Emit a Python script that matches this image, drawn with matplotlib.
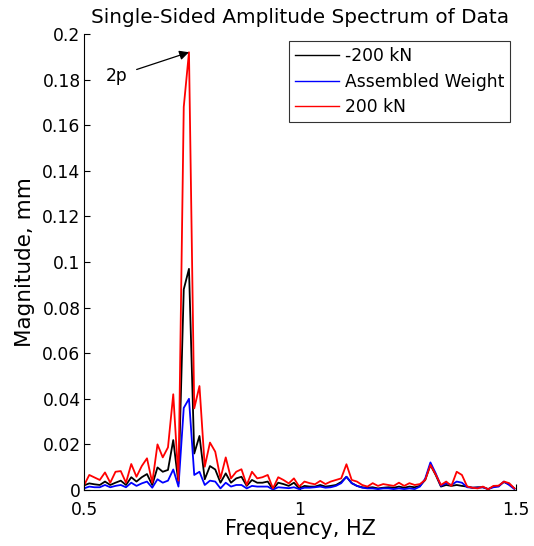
import matplotlib
matplotlib.use("Agg")
import matplotlib.pyplot as plt

plt.rcParams['font.family'] = ['DejaVu Sans']

freq = [0.5, 0.5122, 0.5243, 0.5365, 0.5486, 0.5608, 0.5729, 0.5851, 0.5972, 0.6094,
        0.6215, 0.6337, 0.6458, 0.6580, 0.6701, 0.6823, 0.6944, 0.7066, 0.7187, 0.7309,
        0.7430, 0.7552, 0.7673, 0.7795, 0.7916, 0.8038, 0.8159, 0.8281, 0.8402, 0.8524,
        0.8645, 0.8767, 0.8888, 0.9010, 0.9131, 0.9253, 0.9374, 0.9496, 0.9617, 0.9739,
        0.9860, 0.9982, 1.0103, 1.0225, 1.0346, 1.0468, 1.0589, 1.0711, 1.0832, 1.0954,
        1.1075, 1.1197, 1.1318, 1.1440, 1.1561, 1.1683, 1.1804, 1.1926, 1.2047, 1.2169,
        1.2290, 1.2412, 1.2533, 1.2655, 1.2776, 1.2898, 1.3019, 1.3141, 1.3262, 1.3384,
        1.3505, 1.3627, 1.3748, 1.3870, 1.3991, 1.4113, 1.4234, 1.4356, 1.4477, 1.4599,
        1.4720, 1.4842, 1.4963]

minus200 = [0.0020, 0.0029, 0.0025, 0.0022, 0.0037, 0.0022, 0.0032, 0.0041, 0.0022, 0.0056,
            0.0037, 0.0056, 0.0070, 0.0022, 0.0099, 0.0080, 0.0088, 0.0219, 0.0029, 0.0880,
            0.0970, 0.0160, 0.0237, 0.0047, 0.0105, 0.0090, 0.0032, 0.0073, 0.0032, 0.0051,
            0.0058, 0.0018, 0.0044, 0.0032, 0.0032, 0.0037, 0.0003, 0.0032, 0.0026, 0.0018,
            0.0032, 0.0007, 0.0018, 0.0015, 0.0015, 0.0022, 0.0015, 0.0018, 0.0022, 0.0035,
            0.0058, 0.0030, 0.0018, 0.0012, 0.0010, 0.0012, 0.0007, 0.0010, 0.0012, 0.0010,
            0.0015, 0.0010, 0.0015, 0.0012, 0.0018, 0.0044, 0.0110, 0.0066, 0.0015, 0.0022,
            0.0018, 0.0022, 0.0018, 0.0015, 0.0010, 0.0012, 0.0012, 0.0004, 0.0015, 0.0018,
            0.0035, 0.0025, 0.0007]

assembled = [0.0007, 0.0015, 0.0012, 0.0012, 0.0022, 0.0012, 0.0018, 0.0022, 0.0012, 0.0032,
             0.0018, 0.0029, 0.0037, 0.0010, 0.0047, 0.0032, 0.0041, 0.0090, 0.0015, 0.0360,
             0.0400, 0.0066, 0.0080, 0.0022, 0.0041, 0.0037, 0.0007, 0.0032, 0.0015, 0.0022,
             0.0022, 0.0007, 0.0018, 0.0015, 0.0015, 0.0015, 0.0002, 0.0012, 0.0010, 0.0008,
             0.0012, 0.0004, 0.0010, 0.0010, 0.0012, 0.0015, 0.0010, 0.0012, 0.0018, 0.0030,
             0.0058, 0.0030, 0.0018, 0.0010, 0.0007, 0.0007, 0.0004, 0.0007, 0.0007, 0.0004,
             0.0007, 0.0004, 0.0007, 0.0004, 0.0015, 0.0050, 0.0121, 0.0073, 0.0018, 0.0030,
             0.0022, 0.0037, 0.0032, 0.0012, 0.0010, 0.0010, 0.0012, 0.0004, 0.0012, 0.0015,
             0.0037, 0.0022, 0.0004]

plus200 = [0.0020, 0.0066, 0.0055, 0.0044, 0.0077, 0.0032, 0.0080, 0.0083, 0.0032, 0.0114,
           0.0058, 0.0105, 0.0139, 0.0032, 0.0200, 0.0143, 0.0187, 0.0420, 0.0041, 0.1680,
           0.1920, 0.0358, 0.0456, 0.0102, 0.0208, 0.0168, 0.0051, 0.0143, 0.0051, 0.0080,
           0.0091, 0.0022, 0.0080, 0.0051, 0.0056, 0.0066, 0.0007, 0.0056, 0.0044, 0.0029,
           0.0051, 0.0015, 0.0037, 0.0030, 0.0025, 0.0040, 0.0026, 0.0037, 0.0044, 0.0051,
           0.0113, 0.0044, 0.0037, 0.0022, 0.0015, 0.0030, 0.0018, 0.0026, 0.0022, 0.0018,
           0.0032, 0.0018, 0.0030, 0.0022, 0.0026, 0.0044, 0.0110, 0.0068, 0.0022, 0.0037,
           0.0018, 0.0080, 0.0066, 0.0015, 0.0010, 0.0007, 0.0015, 0.0003, 0.0018, 0.0019,
           0.0037, 0.0030, 0.0007]

series_labels = ['-200 kN', 'Assembled Weight', '200 kN']
xticks = [0.5, 1, 1.5]
xticklabels = ['0.5', '1', '1.5']
yticks = [0, 0.02, 0.04, 0.06, 0.08, 0.1, 0.12, 0.14, 0.16, 0.18, 0.2]
yticklabels = ['0', '0.02', '0.04', '0.06', '0.08', '0.1', '0.12', '0.14', '0.16', '0.18', '0.2']

FS = 12.3
fig = plt.figure(figsize=(5.34, 5.46), dpi=100)
ax = fig.add_axes([84/534, 56/546, 432/534, 456/546])

ax.plot(freq, minus200, color='black', lw=1.3, label=series_labels[0])
ax.plot(freq, assembled, color='blue', lw=1.3, label=series_labels[1])
ax.plot(freq, plus200, color='red', lw=1.3, label=series_labels[2])

ax.set_xlim(0.5, 1.5)
ax.set_ylim(0, 0.2)
ax.set_xticks(xticks)
ax.set_xticklabels(xticklabels)
ax.set_yticks(yticks)
ax.set_yticklabels(yticklabels)
ax.tick_params(direction='in', length=4, width=0.8, labelsize=FS)
ax.tick_params(axis='y', pad=2.5)
ax.tick_params(axis='x', pad=8)
for s in ['top', 'right']:
    ax.spines[s].set_visible(False)
for s in ['left', 'bottom']:
    ax.spines[s].set_linewidth(0.8)

ax.set_title('Single-Sided Amplitude Spectrum of Data', fontsize=14.4, pad=8)
ax.set_xlabel('Frequency, HZ', fontsize=15, labelpad=0)
ax.set_ylabel('Magnitude, mm', fontsize=15.5, labelpad=5)

ax.annotate('2p', xy=(freq[20], plus200[20]), xytext=(0.575, 0.1815),
            fontsize=FS, ha='center', va='center',
            arrowprops=dict(arrowstyle='-|>', color='black', lw=0.9,
                            mutation_scale=14, shrinkA=5, shrinkB=0))

leg = ax.legend(loc='upper right', bbox_to_anchor=(0.986, 0.985), borderaxespad=0,
                fontsize=FS, frameon=True, fancybox=False, handlelength=2.6,
                handletextpad=0.3, labelspacing=0.45, borderpad=0.35)
leg.get_frame().set_edgecolor('black')
leg.get_frame().set_linewidth(0.8)
for line in leg.get_lines():
    line.set_linewidth(1.0)

fig.savefig('out.png', dpi=100)
